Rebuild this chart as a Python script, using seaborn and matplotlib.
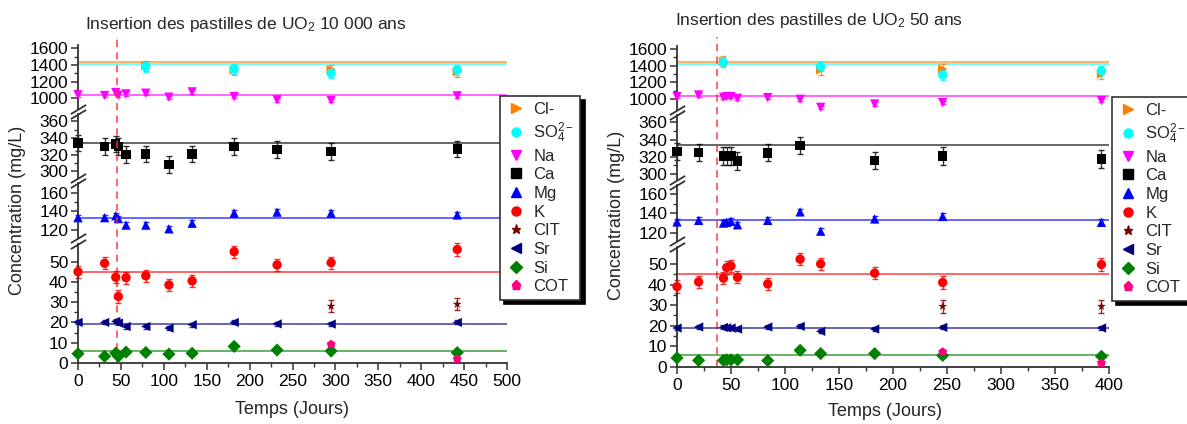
"""
Concentrations des ions en solution apres insertion des pastilles de UO2
(eau 10 000 ans a gauche, eau 50 ans a droite), axe des y coupe en 4 morceaux.
"""
import numpy as np
import pandas as pd
import matplotlib
matplotlib.use("Agg")
import matplotlib.pyplot as plt
import matplotlib.transforms as mtransforms
from matplotlib.lines import Line2D
import seaborn as sns

nan = np.nan

# ions, in legend order
ions = ["Cl-", "SO4", "Na", "Ca", "Mg", "K", "CIT", "Sr", "Si", "COT"]
ion_labels = ["Cl-", r"SO$_4^{2-}$", "Na", "Ca", "Mg", "K", "CIT", "Sr", "Si", "COT"]
ion_colors = ["#FF8000", "#00FFFF", "#FF00FF", "#000000", "#0000FF",
              "#FF0000", "#800000", "#000080", "#008000", "#FF0080"]
ion_markers = [">", "o", "v", "s", "^", "o", "*", "<", "D", "p"]
# reference water concentration (horizontal lines), None = no line
ref_values = [1440, 1415, 1040, 334, 133, 45, None, 19, 6, None]
# error bar half width (mg/L)
err_values = [60, 60, 20, 10, 3, 3, 3, 1, 0.6, 0.8]

# --- 10 000 ans water ---
t_10k = [0, 31, 44, 47, 56, 79, 106, 133, 182, 232, 295, 442]
cl_10k = [nan, nan, nan, nan, nan, 1390, nan, nan, 1340, nan, 1345, 1320]
so4_10k = [nan, nan, nan, nan, nan, 1380, nan, nan, 1350, nan, 1300, 1340]
na_10k = [1040, 1032, 1068, 1035, 1052, 1060, 1012, 1076, 1020, 980, 972, 1028]
ca_10k = [334, 330, 333, 330, 320, 321, 308, 321, 330, 326, 324, 327]
mg_10k = [133, 133, 135, 132, 125, 125, 121, 127, 138, 139, 138, 136]
k_10k = [45, 49.2, 42.3, 32.8, 42.1, 43, 38.5, 40.5, 54.9, 48.4, 49.5, 56]
cit_10k = [nan, nan, nan, nan, nan, nan, nan, nan, nan, nan, 28, 29]
sr_10k = [20, 20, 20.5, 19.7, 18, 18, 17.2, 18.9, 20, 19.3, 19.2, 20]
si_10k = [4.6, 3.3, 4.9, 3.3, 5.4, 5.2, 4.4, 4.8, 8.2, 6.4, 5.9, 5.1]
cot_10k = [nan, nan, nan, nan, nan, nan, nan, nan, nan, nan, 9.2, 2.0]
insert_10k = 45

# --- 50 ans water ---
t_50 = [0, 20, 43, 46, 50, 56, 84, 114, 133, 183, 246, 393]
cl_50 = [nan, nan, 1450, nan, nan, nan, nan, nan, 1350, nan, 1360, 1300]
so4_50 = [nan, nan, 1440, nan, nan, nan, nan, nan, 1390, nan, 1290, 1340]
na_50 = [1028, 1048, 1020, 1030, 1028, 1008, 1016, 996, 900, 940, 956, 980]
ca_50 = [326, 325, 321, 321, 321, 315, 324.5, 333, nan, 316, 321, 317.5]
mg_50 = [131.4, 133, 130.3, 131, 132, 128.6, 133, 141.7, 122, 134.5, 137, 131]
k_50 = [39, 41.3, 43.1, 48.2, 49, 43.5, 40.3, 52.3, 50, 45.5, 41, 49.7]
cit_50 = [nan, nan, nan, nan, nan, nan, nan, nan, nan, nan, 29.4, 29.4]
sr_50 = [18.9, 19.4, 19.2, 19, 18.9, 18.4, 19.4, 19.7, 17.3, 18.4, 19.2, 18.9]
si_50 = [4.4, 3.2, 3.2, 3.5, 3.5, 3.5, 3.1, 8.1, 6.5, 6.5, 5.6, 5.2]
cot_50 = [nan, nan, nan, nan, nan, nan, nan, nan, nan, nan, 7.3, 1.9]
insert_50 = 37


def to_long(t, series):
    """Stack the ion series into one long table."""
    frames = []
    for ion, vals in zip(ions, series):
        frames.append(pd.DataFrame({"t": t, "val": vals, "ion": ion}))
    df = pd.concat(frames, ignore_index=True)
    return df.dropna()


df_10k = to_long(t_10k, [cl_10k, so4_10k, na_10k, ca_10k, mg_10k,
                         k_10k, cit_10k, sr_10k, si_10k, cot_10k])
df_50 = to_long(t_50, [cl_50, so4_50, na_50, ca_50, mg_50,
                       k_50, cit_50, sr_50, si_50, cot_50])

sns.set_style("ticks")
plt.rcParams["font.family"] = ["Liberation Sans", "DejaVu Sans"]
plt.rcParams["mathtext.default"] = "regular"

W, H = 1187, 424
fig = plt.figure(figsize=(W / 100, H / 100), dpi=100)
spine_col = "#333333"
palette = dict(zip(ions, ion_colors))
markers = dict(zip(ions, ion_markers))


def px_axes(x0, x1, top, bottom):
    return fig.add_axes([x0 / W, 1 - bottom / H, (x1 - x0) / W, (bottom - top) / H])


def draw_panel(df, x0, x1, xmax, segments, insert_day, dash_top):
    axes = []
    n = len(segments)
    for i, (lo, hi, top, bottom, majors, minor) in enumerate(segments):
        ax = px_axes(x0, x1, top, bottom)
        ax.set_xlim(0, xmax)
        ax.set_ylim(lo, hi)

        # reference lines
        for c, ref in zip(ion_colors, ref_values):
            if ref is not None and lo <= ref <= hi:
                ax.axhline(ref, color=c, lw=1.3, alpha=0.65, zorder=1)

        sub = df[(df["val"] >= lo) & (df["val"] <= hi)]
        for ion, c, e in zip(ions, ion_colors, err_values):
            s = sub[sub["ion"] == ion]
            if len(s):
                ax.errorbar(s["t"], s["val"], yerr=e, fmt="none", ecolor=c,
                            elinewidth=1, capsize=2.5, capthick=1,
                            alpha=0.8, zorder=2, clip_on=False)
        if len(sub):
            sns.scatterplot(data=sub, x="t", y="val", hue="ion", style="ion",
                            hue_order=ions, style_order=ions, palette=palette,
                            markers=markers, s=45, linewidth=0, legend=False,
                            ax=ax, zorder=3, clip_on=False)

        ax.set_yticks(majors)
        ax.set_yticks(np.arange(majors[0], majors[-1] + minor / 2, minor), minor=True)
        ax.set_ylabel("")
        ax.set_xlabel("")
        for side in ["top", "right"]:
            ax.spines[side].set_visible(False)
        ax.spines["left"].set_color(spine_col)
        ax.spines["left"].set_linewidth(1.3)
        ax.tick_params(axis="y", which="major", length=5, width=1.1,
                       colors=spine_col, labelcolor="black", labelsize=12.5, pad=2)
        ax.tick_params(axis="y", which="minor", length=3, width=1.0, colors=spine_col)
        ax.patch.set_alpha(0)

        if i < n - 1:
            ax.spines["bottom"].set_visible(False)
            ax.tick_params(axis="x", which="both", bottom=False, labelbottom=False)
        else:
            ax.spines["bottom"].set_color(spine_col)
            ax.spines["bottom"].set_linewidth(1.3)
            ax.set_xticks(np.arange(0, xmax + 1, 50))
            ax.set_xticks(np.arange(0, xmax + 1, 25), minor=True)
            ax.tick_params(axis="x", which="major", length=5, width=1.1,
                           colors=spine_col, labelcolor="black", labelsize=12.5, pad=3)
            ax.tick_params(axis="x", which="minor", length=3, width=1.0, colors=spine_col)

        # break marks on the left spine
        kw = dict(marker=[(-1, -0.6), (1, 0.6)], markersize=11, linestyle="none",
                  color=spine_col, mew=1.3, clip_on=False, transform=ax.transAxes)
        if i < n - 1:
            ax.plot([0], [0], **kw)
        if i > 0:
            ax.plot([0], [1], **kw)
        axes.append(ax)

    # insertion date (dashed red line through all segments)
    bottom_ax = axes[-1]
    tr = mtransforms.blended_transform_factory(bottom_ax.transData, fig.transFigure)
    y_bot = 1 - segments[-1][3] / H
    bottom_ax.plot([insert_day, insert_day], [y_bot, 1 - dash_top / H], transform=tr,
                   color="#FF3030", lw=1.3, ls=(0, (4, 3)), alpha=0.8,
                   clip_on=False, zorder=0)
    return axes


seg_10k = [
    (870, 1640, 45, 109, [1000, 1200, 1400, 1600], 100),
    (292, 369, 114, 178, [300, 320, 340, 360], 10),
    (111, 170.5, 183, 238, [120, 140, 160], 10),
    (0, 58.7, 244, 363, [0, 10, 20, 30, 40, 50], 5),
]
seg_50 = [
    (868, 1636, 46, 110, [1000, 1200, 1400, 1600], 100),
    (293, 368.5, 115, 180, [300, 320, 340, 360], 10),
    (112, 169, 185, 241, [120, 140, 160], 10),
    (0, 58.2, 247, 367, [0, 10, 20, 30, 40, 50], 5),
]

draw_panel(df_10k, 78, 507, 500, seg_10k, insert_10k, 37)
draw_panel(df_50, 677, 1109, 400, seg_50, insert_50, 37)

# titles and axis labels
fig.text(85 / W, 1 - 25 / H, "Insertion des pastilles de UO$_2$ 10 000 ans",
         ha="left", va="center", fontsize=12.5)
fig.text(675 / W, 1 - 20 / H, "Insertion des pastilles de UO$_2$ 50 ans",
         ha="left", va="center", fontsize=12.5)
for xpix, ypix in [(18, 210), (617, 215)]:
    fig.text(xpix / W, 1 - ypix / H, "Concentration (mg/L)", rotation=90,
             ha="center", va="center", fontsize=13)
for xpix, ypix in [(292, 409), (885, 412)]:
    fig.text(xpix / W, 1 - ypix / H, "Temps (Jours)", ha="center", va="center",
             fontsize=13)

# legends
handles = [Line2D([], [], marker=m, color=c, linestyle="none", markersize=6.5)
           for m, c in zip(ion_markers, ion_colors)]
for xpix, ypix in [(500, 96), (1112, 97)]:
    leg = fig.legend(handles, ion_labels, loc="upper left",
                     bbox_to_anchor=(xpix / W, 1 - ypix / H), borderaxespad=0,
                     fontsize=12, frameon=True, fancybox=False,
                     shadow={"ox": 3, "oy": -3, "color": "black", "alpha": 1},
                     labelspacing=0.22, handletextpad=0.45, borderpad=0.35,
                     handlelength=1.2)
    leg.get_frame().set_edgecolor(spine_col)
    leg.get_frame().set_linewidth(1.2)

fig.savefig("out.png", dpi=100)
